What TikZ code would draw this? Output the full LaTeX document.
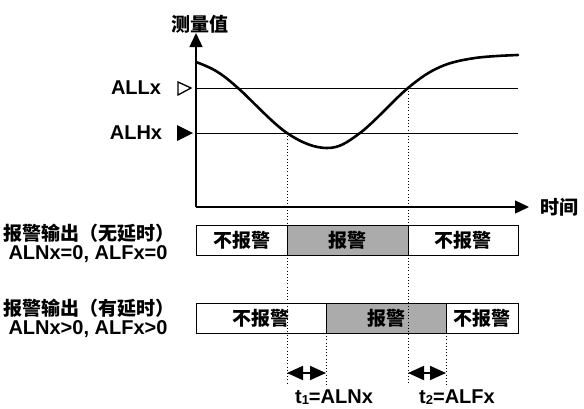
\documentclass[tikz,border=0pt]{standalone}
\usepackage{fontspec}
\setmainfont{Liberation Sans}
\newfontfamily\cjk{Noto Sans CJK SC}
\usetikzlibrary{arrows.meta,positioning}

\begin{document}
\begin{tikzpicture}[ % GLOBAL CFG
    x=1pt, y=-1pt,
    >={Triangle[length=14pt,width=13pt]},
    font=\fontsize{20}{22}\selectfont\bfseries,
    % Styles
    axis/.style={% For the two axes
        line width=1.4pt,
        -{Triangle[length=14pt,width=13pt]},
        },
    level/.style={% For the alarm levels
        line width=1pt,
        },
    signal/.style={% For the measured value
        line width=2.6pt,
        line cap=round,
        },
    guide/.style={% For the dotted time marks
        line width=1pt,
        dash pattern=on 1pt off 2.2pt,
        },
    cell/.style={% For the output states
        draw,
        line width=1pt,
        minimum height=30pt,
        inner sep=0pt,
        outer sep=0pt,
        font=\cjk\fontsize{19}{21}\selectfont\bfseries,
        },
    celloff/.style={cell, fill=white},
    cellon/.style={cell, fill=black!33},
    cjklabel/.style={% Chinese texts
        font=\cjk\fontsize{19}{21}\selectfont\bfseries,
        inner sep=0pt,
        },
    latlabel/.style={% Latin texts
        inner sep=0pt,
        },
    delay/.style={% For the delay times
        line width=1.8pt,
        {Triangle[length=16pt,width=14pt]}-{Triangle[length=16pt,width=14pt]},
        },
    ]
    \useasboundingbox (0,0) rectangle (584,408);

    % Axes
    \coordinate (O) at (196,207);
    \coordinate (ytop) at (196,33);
    \coordinate (xend) at (529,207);
    \draw [axis] (O) -- (ytop);
    \draw [axis] (O) -- (xend);
    \node [cjklabel] (ylab) at (200,24) {测量值};
    \node [cjklabel, anchor=west] (xlab) at (540,207) {时间};

    % Alarm levels
    \draw [level] (196,88) -- (518,88);
    \draw [level] (196,133) -- (518,133);
    \node [latlabel] (alllab) at (136,88) {ALLx};
    \node [latlabel] (alhlab) at (136,133) {ALHx};
    \draw [line width=1.3pt, line join=miter] (178,82) -- (191,88) -- (178,95) -- cycle;
    \fill (177,125) -- (193,133) -- (177,141) -- cycle;

    % Measured value
    \draw [signal] plot[smooth, tension=0.6] coordinates {(196,62) (216,71) (238,88) (287,133) (327,148) (360,133) (408,88) (440,67) (475,58) (518,55)};
    \coordinate (c1) at (287,133);
    \coordinate (c2) at (408,88);

    % Output without delay
    \node [celloff, minimum width=91pt, anchor=west] (r1a) at (196,240) {不报警};
    \node [cellon, minimum width=121pt, right=0pt of r1a] (r1b) {报警};
    \node [celloff, minimum width=110pt, right=0pt of r1b] (r1c) {不报警};
    \node [cjklabel] (r1t) at (89,233) {报警输出（无延时）};
    \node [latlabel] (r1p) at (88,254) {ALNx=0, ALFx=0};

    % Output with delay
    \node [celloff, minimum width=130pt, anchor=west] (r2a) at (196,318) {不报警};
    \node [cellon, minimum width=120pt, right=0pt of r2a] (r2b) {报警};
    \node [celloff, minimum width=72pt, right=0pt of r2b] (r2c) {不报警};
    \node [cjklabel] (r2t) at (89,308) {报警输出（有延时）};
    \node [latlabel] (r2p) at (88,329) {ALNx>0, ALFx>0};

    % Time marks
    \coordinate (gbot) at (0,385);
    \coordinate (arr) at (0,373);
    \draw [guide] (c1) -- (c1 |- gbot);
    \draw [guide] (c2) -- (c2 |- gbot);
    \draw [guide] (r2a.south east) -- (r2a.south east |- gbot);
    \draw [guide] (r2b.south east) -- (r2b.south east |- gbot);
    \draw [delay] (c1 |- arr) -- (r2a.south east |- arr);
    \draw [delay] (c2 |- arr) -- (r2b.south east |- arr);
    \node [latlabel] (t1lab) at (334,397) {t\raisebox{-0.5pt}{\fontsize{13}{13}\selectfont 1}=ALNx};
    \node [latlabel] (t2lab) at (457,397) {t\raisebox{-0.5pt}{\fontsize{13}{13}\selectfont 2}=ALFx};
\end{tikzpicture}
\end{document}
